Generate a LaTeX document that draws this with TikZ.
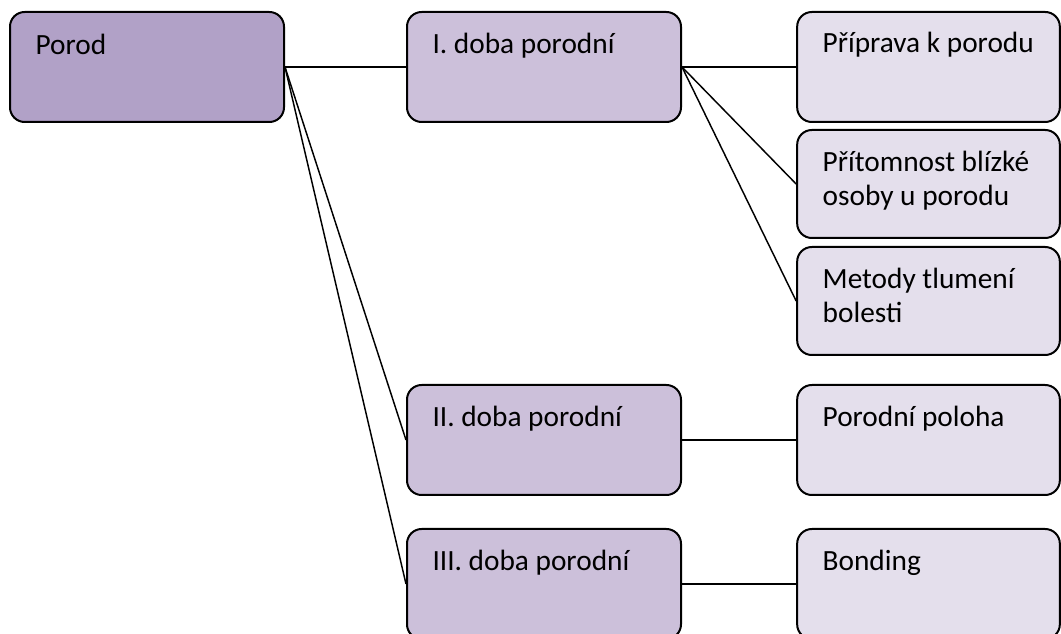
\documentclass[tikz,border=0pt]{standalone}
\usepackage{fontspec}
\setmainfont{Carlito}
\usetikzlibrary{positioning}

\definecolor{rootfill}{RGB}{177,161,199}
\definecolor{midfill}{RGB}{204,192,218}
\definecolor{leaffill}{RGB}{228,223,236}

\tikzset{every picture/.style={line width=0.75pt}}
\tikzset{
	box/.style={draw=black, line width=1.5pt, rounded corners=11pt, inner sep=0pt, minimum width=205.5pt, minimum height=82.5pt},
	leafbox/.style={box, fill=leaffill, minimum width=197pt},
	boxtext/.style={anchor=base west, inner sep=0pt, align=left, font=\fontsize{22}{25.5}\selectfont},
	link/.style={line width=1.1pt}
}

\begin{document}
\begin{tikzpicture}[x=0.75pt,y=0.75pt,yscale=-1,xscale=1]
	\fill[white] (0,0) rectangle (1061,634);
	\useasboundingbox (0,0) rectangle (1061,634);

	%Shape: Rounded Rect
	\node [box, fill=rootfill] (porod) at (147,67) {};
	%Shape: Rounded Rect
	\node [box, fill=midfill] (doba1) at (544,67) {};
	\node [box, fill=midfill] (doba2) at (544,440) {};
	\node [box, fill=midfill] (doba3) at (544,584) {};
	%Shape: Rounded Rect
	\node [leafbox] (priprava) at (928.5,67) {};
	\node [leafbox, minimum height=81pt] (pritomnost) at (928.5,184) {};
	\node [leafbox, minimum height=81pt] (metody) at (928.5,301) {};
	\node [leafbox] (poloha) at (928.5,440) {};
	\node [leafbox] (bonding) at (928.5,584) {};

	%Straight Lines
	\draw [link] (porod.east) -- (doba1.west) ;
	\draw [link] (porod.east) -- (doba2.west) ;
	\draw [link] (porod.east) -- (doba3.west) ;
	%Straight Lines
	\draw [link] (doba1.east) -- (priprava.west) ;
	\draw [link] (doba1.east) -- (pritomnost.west) ;
	\draw [link] (doba1.east) -- (metody.west) ;
	\draw [link] (doba2.east) -- (poloha.west) ;
	\draw [link] (doba3.east) -- (bonding.west) ;

	% Text Node
	\node [boxtext] (porodT) at ([xshift=19.5pt,yshift=33pt]porod.north west) {Porod};
	% Text Node
	\node [boxtext] (doba1T) at ([xshift=19.5pt,yshift=32pt]doba1.north west) {I. doba porodní};
	\node [boxtext] (doba2T) at ([xshift=19.5pt,yshift=32pt]doba2.north west) {II. doba porodní};
	\node [boxtext] (doba3T) at ([xshift=19.5pt,yshift=32pt]doba3.north west) {III. doba porodní};
	% Text Node
	\node [boxtext] (pripravaT) at ([xshift=19.5pt,yshift=31pt]priprava.north west) {Příprava k porodu};
	\node [boxtext] (pritomnostT) at ([xshift=19.5pt,yshift=57.5pt]pritomnost.north west) {Přítomnost blízké\\osoby u porodu};
	\node [boxtext] (metodyT) at ([xshift=19.5pt,yshift=57.5pt]metody.north west) {Metody tlumení\\bolesti};
	\node [boxtext] (polohaT) at ([xshift=19.5pt,yshift=32pt]poloha.north west) {Porodní poloha};
	\node [boxtext] (bondingT) at ([xshift=19.5pt,yshift=32pt]bonding.north west) {Bonding};

\end{tikzpicture}
\end{document}
